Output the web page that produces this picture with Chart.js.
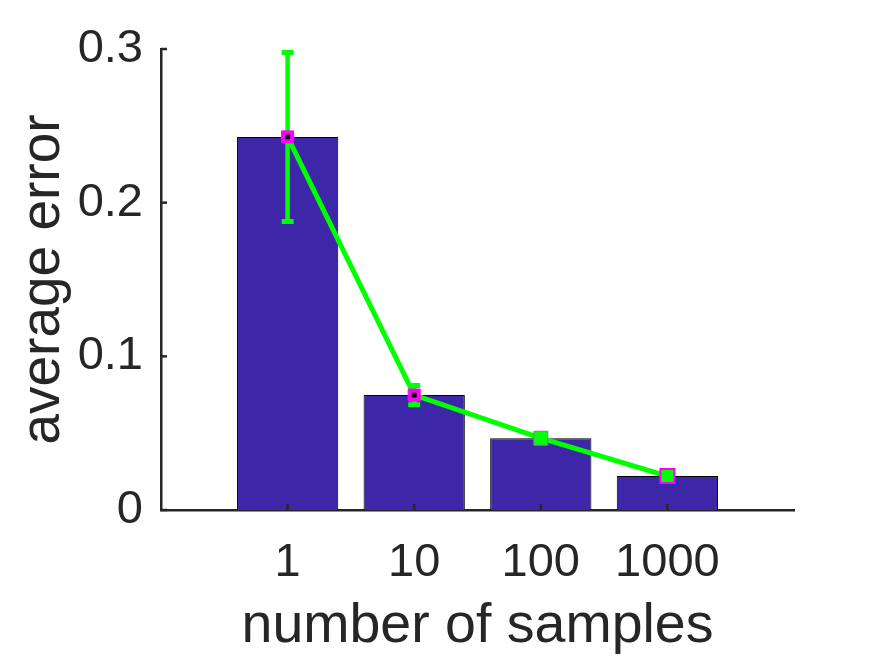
<!DOCTYPE html>
<html><head><meta charset="utf-8">
<script src="https://cdn.jsdelivr.net/npm/chart.js@4"></script>
<style>html,body{margin:0;padding:0;background:#fff}#wrap{width:875px;height:656px;position:relative}</style>
</head><body><div id="wrap"><canvas id="c"></canvas></div>
<script>
const categories = ['1', '10', '100', '1000'];
const meanError = [0.2428, 0.0748, 0.0467, 0.0221];
const errLower = [0.1877, 0.0685, 0.0457, 0.0213];
const errUpper = [0.2978, 0.0810, 0.0477, 0.0229];
const yTicks = [0, 0.1, 0.2, 0.3];

const xPos = categories.map((c, i) => i + 1);
const pts = meanError.map((v, i) => ({x: xPos[i], y: v}));
const AX = '#262626';
const FONT = "'Liberation Sans', Arial, Helvetica, sans-serif";

const extras = {
  id: 'extras',
  afterDatasetDraw(chart, args) {
    if (args.index !== 0) return;
    const ctx = chart.ctx, xs = chart.scales.x, ys = chart.scales.y;
    ctx.save();
    ctx.strokeStyle = '#00FF00';
    ctx.lineCap = 'butt';
    xPos.forEach((xv, i) => {
      const px = xs.getPixelForValue(xv);
      const lo = ys.getPixelForValue(errLower[i]);
      const hi = ys.getPixelForValue(errUpper[i]);
      ctx.lineWidth = 4.5;
      ctx.beginPath(); ctx.moveTo(px, lo); ctx.lineTo(px, hi); ctx.stroke();
      ctx.lineWidth = 5;
      ctx.beginPath();
      ctx.moveTo(px - 6, lo); ctx.lineTo(px + 6, lo);
      ctx.moveTo(px - 6, hi); ctx.lineTo(px + 6, hi);
      ctx.stroke();
    });
    ctx.restore();
  },
  afterDraw(chart) {
    const ctx = chart.ctx, xs = chart.scales.x, ys = chart.scales.y;
    ctx.save();
    ctx.strokeStyle = AX;
    ctx.lineWidth = 2.5;
    const ax = xs.left, by = ys.bottom;
    yTicks.forEach(t => {
      const py = ys.getPixelForValue(t);
      ctx.beginPath(); ctx.moveTo(ax, py); ctx.lineTo(ax + 6, py); ctx.stroke();
    });
    xPos.forEach(xv => {
      const px = xs.getPixelForValue(xv);
      ctx.beginPath(); ctx.moveTo(px, by); ctx.lineTo(px, by - 6); ctx.stroke();
    });
    ctx.restore();
  }
};

new Chart(document.getElementById('c'), {
  type: 'bar',
  data: {
    datasets: [
      {
        type: 'bar',
        data: pts,
        backgroundColor: '#3E26A8',
        borderColor: '#000000',
        borderWidth: 1,
        borderSkipped: 'bottom',
        barPercentage: 0.8,
        categoryPercentage: 1.0,
        order: 3
      },
      {
        type: 'line',
        data: pts,
        borderColor: '#00FF00',
        borderWidth: 5,
        tension: 0,
        fill: false,
        pointStyle: 'rect',
        pointRadius: [8.5, 8.5, 9.9, 9.9],
        pointBackgroundColor: ['#FF00FF', '#FF00FF', '#00FF00', '#00FF00'],
        pointBorderColor: ['#FF00FF', '#FF00FF', '#C848E0', '#FF00FF'],
        pointBorderWidth: [1, 1, 1, 2],
        order: 1
      },
      {
        type: 'line',
        data: pts,
        showLine: false,
        pointStyle: 'rect',
        pointRadius: [3.5, 3.5, 0, 0],
        pointBackgroundColor: '#000000',
        pointBorderWidth: 0,
        order: 0
      }
    ]
  },
  options: {
    responsive: true,
    maintainAspectRatio: false,
    animation: false,
    events: [],
    layout: {padding: {left: 0, right: 81, top: 49, bottom: 0}},
    plugins: {legend: {display: false}, tooltip: {enabled: false}},
    scales: {
      x: {
        type: 'linear',
        min: 0, max: 5,
        offset: false,
        grid: {display: false, drawTicks: false},
        border: {display: true, color: AX, width: 2.5},
        afterBuildTicks: s => { s.ticks = xPos.map(v => ({value: v})); },
        afterFit: s => { s.height = 146; },
        ticks: {
          color: AX,
          font: {family: FONT, size: 47},
          padding: 25,
          maxRotation: 0,
          autoSkip: false,
          callback: (v) => categories[xPos.indexOf(v)] ?? ''
        },
        title: {
          display: true, text: 'number of samples', color: AX,
          font: {family: FONT, size: 55.5}, padding: {top: 0, bottom: -4}
        }
      },
      y: {
        min: 0, max: 0.3,
        grid: {display: false, drawTicks: false},
        border: {display: true, color: AX, width: 2.5},
        afterBuildTicks: s => { s.ticks = yTicks.map(v => ({value: v})); },
        afterFit: s => { s.width = 161; },
        ticks: {
          color: AX,
          font: {family: FONT, size: 47},
          padding: 18,
          callback: v => (v === 0 ? '0' : v.toFixed(1))
        },
        title: {
          display: true, text: 'average error', color: AX,
          font: {family: FONT, size: 55}, padding: {top: 11, bottom: 0}
        }
      }
    }
  },
  plugins: [extras]
});
</script>
</body></html>
